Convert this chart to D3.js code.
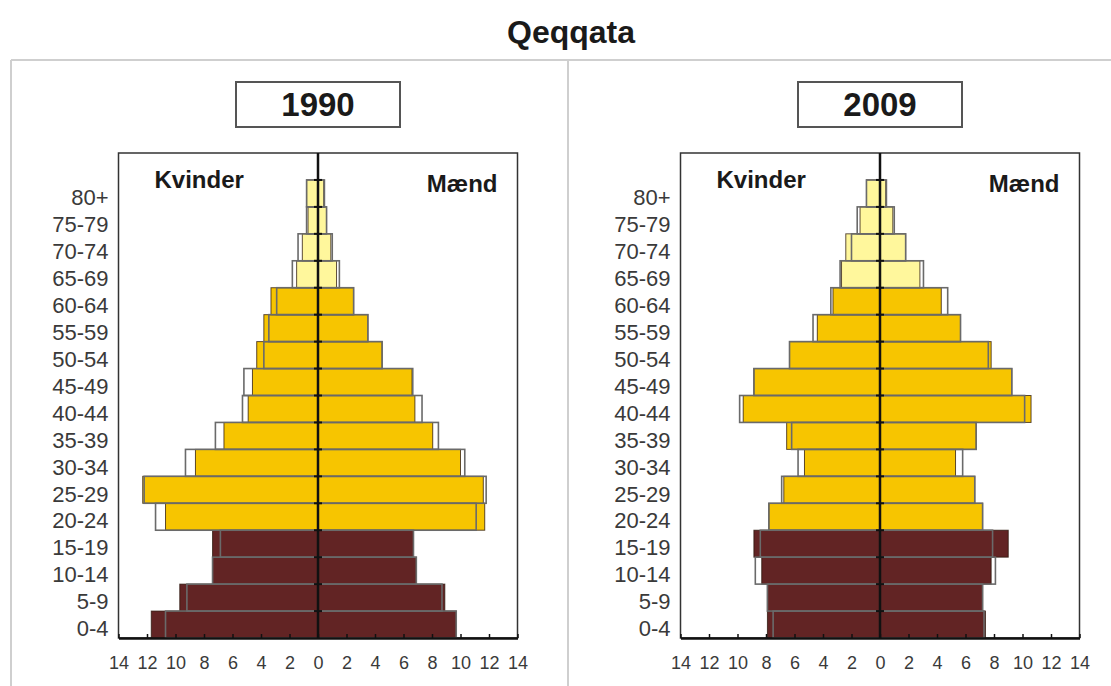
<!DOCTYPE html>
<html>
<head>
<meta charset="utf-8">
<script src="https://cdn.jsdelivr.net/npm/d3@7"></script>
<style>
  body { margin: 0; background: #fff; }
  svg { display: block; font-family: "Liberation Sans", Arial, sans-serif; }
</style>
</head>
<body>
<div id="chart"></div>
<script>
// age groups, bottom to top
var ages = ["0-4","5-9","10-14","15-19","20-24","25-29","30-34","35-39","40-44",
            "45-49","50-54","55-59","60-64","65-69","70-74","75-79","80+"];

// Qeqqata, percent of population (coloured bars)
var kvinder1990 = [11.7, 9.7, 7.4, 7.4, 10.7, 12.3, 8.6, 6.6, 4.9, 4.6, 4.3, 3.8, 3.3, 1.5, 1.1, 0.7, 0.8];
var maend1990   = [9.7, 8.9, 6.9, 6.7, 11.7, 11.6, 10.0, 8.05, 6.8, 6.6, 4.5, 3.5, 2.5, 1.3, 0.9, 0.6, 0.4];
var kvinder2009 = [7.9, 7.9, 8.3, 8.85, 7.8, 6.75, 5.3, 6.55, 9.6, 8.85, 6.35, 4.4, 3.3, 2.7, 2.4, 1.4, 0.95];
var maend2009   = [7.4, 7.2, 7.8, 9.0, 7.2, 6.65, 5.3, 6.75, 10.6, 9.25, 7.8, 5.65, 4.3, 2.8, 1.8, 0.9, 0.4];

// comparison outline bars
var kvinderRef1990 = [10.7, 9.2, 7.4, 6.85, 11.4, 12.2, 9.3, 7.2, 5.3, 5.2, 3.8, 3.45, 2.9, 1.8, 1.4, 0.8, 0.8];
var maendRef1990   = [9.7, 8.7, 6.9, 6.7, 11.1, 11.8, 10.3, 8.45, 7.3, 6.65, 4.5, 3.5, 2.5, 1.5, 1.0, 0.6, 0.45];
var kvinderRef2009 = [7.5, 7.9, 8.75, 8.4, 7.8, 6.9, 5.75, 6.2, 9.85, 8.85, 6.35, 4.7, 3.45, 2.8, 2.0, 1.6, 0.95];
var maendRef2009   = [7.3, 7.2, 8.1, 7.9, 7.2, 6.65, 5.8, 6.75, 10.15, 9.25, 7.6, 5.65, 4.75, 3.05, 1.8, 1.0, 0.45];

var years = ["1990", "2009"];
var xTicks = [-14, -12, -10, -8, -6, -4, -2, 0, 2, 4, 6, 8, 10, 12, 14];

var width = 1111, height = 686;
var plotTop = 153, plotBottom = 638;

var svg = d3.select("#chart").append("svg")
    .attr("width", width)
    .attr("height", height);

// title
svg.append("text")
    .attr("x", 571)
    .attr("y", 43)
    .attr("text-anchor", "middle")
    .style("font-size", "32px")
    .style("font-weight", "bold")
    .attr("fill", "#1a1a1a")
    .text("Qeqqata");

// outer frame
var frame = svg.append("g").attr("stroke", "#cfcfcf").attr("stroke-width", 2);
frame.append("line").attr("x1", 11).attr("x2", width).attr("y1", 60).attr("y2", 60);
frame.append("line").attr("x1", 11).attr("x2", 11).attr("y1", 60).attr("y2", height);
frame.append("line").attr("x1", 568).attr("x2", 568).attr("y1", 60).attr("y2", height);

function ageColor(i) {
    if (i < 4) return "#622424";
    if (i < 13) return "#f7c500";
    return "#fff79c";
}

var panels = [
    {year: years[0], left: 118.5, right: 517.5, kv: kvinder1990, ma: maend1990, kvRef: kvinderRef1990, maRef: maendRef1990},
    {year: years[1], left: 680.5, right: 1079.5, kv: kvinder2009, ma: maend2009, kvRef: kvinderRef2009, maRef: maendRef2009}
];

panels.forEach(function(p) {
    var g = svg.append("g");

    var x = d3.scaleLinear().domain([-14, 14]).range([p.left, p.right]);
    var step = (plotBottom - plotTop) / (ages.length + 1);
    var y = d3.scaleBand().domain(ages).range([plotBottom, plotTop + step]).padding(0);
    var cx = x(0);

    // year box
    g.append("rect")
        .attr("x", cx - 82).attr("y", 82)
        .attr("width", 164).attr("height", 45)
        .attr("fill", "#fff")
        .attr("stroke", "#555")
        .attr("stroke-width", 2);
    g.append("text")
        .attr("x", cx).attr("y", 116)
        .attr("text-anchor", "middle")
        .style("font-size", "33px")
        .style("font-weight", "bold")
        .attr("fill", "#1a1a1a")
        .text(p.year);

    // plot frame
    g.append("rect")
        .attr("x", p.left).attr("y", plotTop)
        .attr("width", p.right - p.left).attr("height", plotBottom - plotTop)
        .attr("fill", "none")
        .attr("stroke", "#333")
        .attr("stroke-width", 1.5);

    var rows = ages.map(function(a, i) {
        return {age: a, i: i, kv: p.kv[i], ma: p.ma[i], kvRef: p.kvRef[i], maRef: p.maRef[i]};
    });

    // coloured bars
    g.selectAll(".kv").data(rows).enter().append("rect")
        .attr("class", "kv")
        .attr("x", function(d) { return x(-d.kv); })
        .attr("y", function(d) { return y(d.age); })
        .attr("width", function(d) { return cx - x(-d.kv); })
        .attr("height", y.bandwidth())
        .attr("fill", function(d) { return ageColor(d.i); })
        .attr("stroke", "rgba(40,20,10,0.75)")
        .attr("stroke-width", 1);

    g.selectAll(".ma").data(rows).enter().append("rect")
        .attr("class", "ma")
        .attr("x", cx)
        .attr("y", function(d) { return y(d.age); })
        .attr("width", function(d) { return x(d.ma) - cx; })
        .attr("height", y.bandwidth())
        .attr("fill", function(d) { return ageColor(d.i); })
        .attr("stroke", "rgba(40,20,10,0.75)")
        .attr("stroke-width", 1);

    // outline bars on top
    g.selectAll(".kvRef").data(rows).enter().append("rect")
        .attr("class", "kvRef")
        .attr("x", function(d) { return x(-d.kvRef); })
        .attr("y", function(d) { return y(d.age); })
        .attr("width", function(d) { return cx - x(-d.kvRef); })
        .attr("height", y.bandwidth())
        .attr("fill", "none")
        .attr("stroke", "#6a6a6a")
        .attr("stroke-width", 1.6);

    g.selectAll(".maRef").data(rows).enter().append("rect")
        .attr("class", "maRef")
        .attr("x", cx)
        .attr("y", function(d) { return y(d.age); })
        .attr("width", function(d) { return x(d.maRef) - cx; })
        .attr("height", y.bandwidth())
        .attr("fill", "none")
        .attr("stroke", "#6a6a6a")
        .attr("stroke-width", 1.6);

    // age labels
    g.selectAll(".age").data(ages).enter().append("text")
        .attr("class", "age")
        .attr("x", p.left - 10)
        .attr("y", function(d) { return y(d) + y.bandwidth() / 2 + 4; })
        .attr("dy", "0.35em")
        .attr("text-anchor", "end")
        .style("font-size", "22px")
        .attr("fill", "#3a3a3a")
        .text(function(d) { return d; });

    // Kvinder / Mænd
    g.append("text")
        .attr("x", p.left + 36).attr("y", 188)
        .style("font-size", "24px").style("font-weight", "bold")
        .attr("fill", "#1a1a1a")
        .text("Kvinder");
    g.append("text")
        .attr("x", p.right - 20).attr("y", 192)
        .attr("text-anchor", "end")
        .style("font-size", "24px").style("font-weight", "bold")
        .attr("fill", "#1a1a1a")
        .text("Mænd");

    // centre line with small marks at each band boundary
    g.append("line")
        .attr("x1", cx).attr("x2", cx)
        .attr("y1", plotTop).attr("y2", plotBottom)
        .attr("stroke", "#111")
        .attr("stroke-width", 2.5);
    g.selectAll(".cmark").data(ages).enter().append("line")
        .attr("class", "cmark")
        .attr("x1", cx - 4).attr("x2", cx + 4)
        .attr("y1", function(d) { return y(d); })
        .attr("y2", function(d) { return y(d); })
        .attr("stroke", "#111")
        .attr("stroke-width", 2);

    // bottom axis
    var axis = d3.axisBottom(x)
        .tickValues(xTicks)
        .tickFormat(function(d) { return Math.abs(d); })
        .tickSizeInner(-4)
        .tickSizeOuter(0)
        .tickPadding(18);

    var ax = g.append("g")
        .attr("transform", "translate(0," + plotBottom + ")")
        .call(axis);
    ax.select(".domain").attr("stroke", "#111").attr("stroke-width", 2.5);
    ax.selectAll(".tick line").attr("stroke", "#111").attr("stroke-width", 1.5);
    ax.selectAll(".tick text")
        .style("font-size", "18px")
        .style("font-family", "'Liberation Sans', Arial, sans-serif")
        .attr("fill", "#3a3a3a");
});
</script>
</body>
</html>
